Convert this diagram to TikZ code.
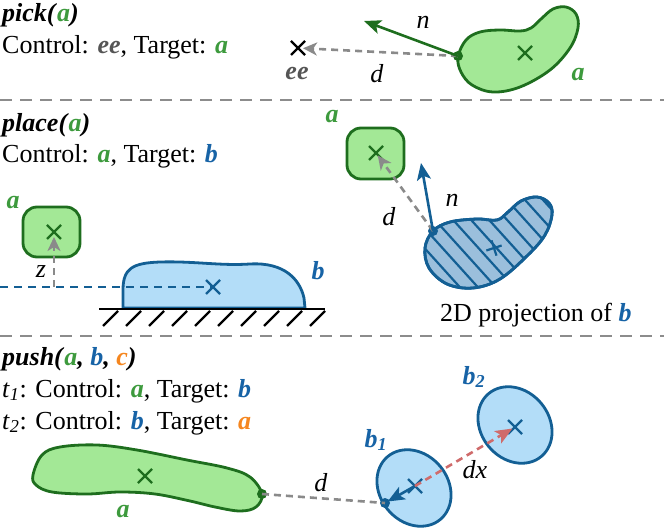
\documentclass[tikz,border=0pt]{standalone}
\usepackage{fontspec}
\setmainfont{Liberation Serif}
\usetikzlibrary{arrows.meta}
\definecolor{gfill}{HTML}{A3E896}
\definecolor{gdark}{HTML}{1E6E1E}
\definecolor{glab}{HTML}{3D9A3D}
\definecolor{bfill}{HTML}{B3DDF8}
\definecolor{bdark}{HTML}{135F94}
\definecolor{blab}{HTML}{1763A6}
\definecolor{hfill}{HTML}{9BBFDC}
\definecolor{garr}{HTML}{8A8A8A}
\definecolor{eecol}{HTML}{555555}
\definecolor{redarr}{HTML}{CF6B6B}
\definecolor{orng}{HTML}{F5861F}
\definecolor{sepcol}{HTML}{8C8C8C}
\newcommand{\bi}[1]{\textbf{\textit{#1}}}
\newcommand{\ga}{\textcolor{glab}{\bi{a}}}
\newcommand{\gb}{\textcolor{blab}{\bi{b}}}
\tikzset{
  xmark/.pic={\path[pic actions] (-7,-7) -- (7,7) (-7,7) -- (7,-7);},
  pmark/.pic={\path[pic actions] (-8,0) -- (8,0) (0,-8) -- (0,8);}
}
\begin{document}
\begin{tikzpicture}[x=1pt,y=-1pt,font=\fontsize{26}{32}\selectfont,
  gshape/.style={fill=gfill,draw=gdark,line width=2.8pt},
  bshape/.style={fill=bfill,draw=bdark,line width=2.8pt},
  hshape/.style={fill=hfill,draw=bdark,line width=2.8pt},
  xm/.style={line width=2.2pt},
  grayarr/.style={draw=garr,line width=2.6pt,dash pattern=on 7pt off 5pt,
    -{Stealth[length=14pt,width=13pt,inset=4pt,fill=garr]}},
  grayline/.style={draw=garr,line width=2.6pt,dash pattern=on 7pt off 5pt},
  greenarr/.style={draw=gdark,line width=2.6pt,-{Stealth[length=17pt,width=14pt,inset=4pt]}},
  bluearr/.style={draw=bdark,line width=2.6pt,-{Stealth[length=17pt,width=14pt,inset=4pt]}},
  redarrow/.style={draw=redarr,line width=2.6pt,dash pattern=on 7pt off 5pt,
    -{Stealth[length=17pt,width=14pt,inset=4pt,fill=redarr]}},
  sepline/.style={draw=sepcol,line width=1.2pt,dash pattern=on 12pt off 8pt},
  lbl/.style={inner sep=0pt},
  txt/.style={inner sep=0pt,anchor=base west},
  dotg/.style={circle,fill=gdark,inner sep=0pt,minimum size=10pt},
  dotb/.style={circle,fill=bdark,inner sep=0pt,minimum size=10pt}]
\useasboundingbox (0,0) rectangle (664,529);

% separators
\draw[sepline] (0,100) -- (664,100);
\draw[sepline] (0,336) -- (664,336);

% ---------- pick ----------
\node[txt] (t1) at (2,22) {\bi{pick(}\ga\bi{)}};
\node[txt] (t2) at (2,54) {Control: \textcolor{eecol}{\bi{ee}}, Target: \ga};
\draw[gshape] plot[smooth cycle,tension=0.6] coordinates {(458,57) (466,40) (480,32) (500,30) (520,31) (531,28) (541,19) (553,9) (566,7) (576,14) (578,28) (570,48) (550,70) (520,87) (493,92) (472,85) (461,72)};
\coordinate (pac) at (525,53);
\pic[draw=gdark,xm] at (pac) {xmark};
\node[dotg] (pa) at (458,56) {};
\coordinate (ee) at (298,48);
\pic[draw=black,xm] at (ee) {xmark};
\coordinate (ntip1) at (364,21);
\draw[grayarr,shorten >=5pt] (pa.center) -- (ee);
\draw[greenarr] (pa.center) -- (ntip1);
\node[lbl,text=eecol] (eel) at (297,74) {\bi{ee}};
\node[lbl] (d1) at (377,74) {\textit{d}};
\node[lbl] (n1) at (423,22) {\textit{n}};
\node[lbl] (al1) at (578,75) {\ga};

% ---------- place ----------
\node[txt] (t3) at (2,132) {\bi{place(}\ga\bi{)}};
\node[txt] (t4) at (2,163) {Control: \ga, Target: \gb};

% left side
\draw[gshape,rounded corners=14pt] (23,207) rectangle (80,257);
\coordinate (acl) at (54,232);
\pic[draw=gdark,xm] at (acl) {xmark};
\node[lbl] (al2) at (13,203) {\ga};
\draw[bshape] (123,308) -- (123,290) .. controls (123,268) and (133,263) .. (160,262) .. controls (195,261) and (220,266) .. (250,264) .. controls (285,262) and (300,280) .. (304,298) -- (305,308) -- cycle;
\coordinate (bc) at (213,287);
\coordinate (lft) at (0,287);
\coordinate (zb) at (54,287);
\draw[draw=bdark,line width=2.2pt,dash pattern=on 8pt off 6pt] (lft) -- (bc);
\pic[draw=bdark,xm] at (bc) {xmark};
\draw[grayarr,shorten >=5pt] (zb) -- (acl);
\node[lbl] (z) at (41,272) {\textit{z}};
\node[lbl] (bl1) at (318,271) {\gb};
\draw[line width=2.8pt] (99,309) -- (325,309);
\foreach \i in {0,...,9} \draw[line width=2.2pt] (118+23*\i,311) -- ++(-15,15);

% right side
\draw[gshape,rounded corners=14pt] (347,128) rectangle (404,179);
\coordinate (acr) at (376,153);
\pic[draw=gdark,xm] at (acr) {xmark};
\node[lbl] (al3) at (332,117) {\ga};
\draw[hshape] plot[smooth cycle,tension=0.6] coordinates {(433,231) (450,222) (477,219) (497,220) (508,212) (521,201) (537,197) (549,203) (552,215) (545,235) (528,255) (500,279) (473,288) (447,284) (429,268) (425,248)};
\begin{scope}
\clip plot[smooth cycle,tension=0.6] coordinates {(433,231) (450,222) (477,219) (497,220) (508,212) (521,201) (537,197) (549,203) (552,215) (545,235) (528,255) (500,279) (473,288) (447,284) (429,268) (425,248)};
\foreach \i in {0,...,15} \draw[bdark,line width=2.2pt] (300+18*\i,170) -- ++(140,155);
\end{scope}
\draw[hshape,fill=none] plot[smooth cycle,tension=0.6] coordinates {(433,231) (450,222) (477,219) (497,220) (508,212) (521,201) (537,197) (549,203) (552,215) (545,235) (528,255) (500,279) (473,288) (447,284) (429,268) (425,248)};
\coordinate (hc) at (494,248);
\pic[draw=bdark,xm,rotate=18] at (hc) {pmark};
\node[dotb] (hd) at (433,231) {};
\coordinate (ntip2) at (421,163);
\draw[grayarr,shorten >=3pt] (hd.center) -- (acr);
\draw[bluearr] (hd.center) -- (ntip2);
\node[lbl] (d2) at (389,217) {\textit{d}};
\node[lbl] (n2) at (452,200) {\textit{n}};
\node[txt] (proj) at (440,322) {2D projection of \gb};

% ---------- push ----------
\node[txt] (t5) at (2,365) {\bi{push(}\ga\bi{, }\gb\bi{, }\textcolor{orng}{\bi{c}}\bi{)}};
\node[txt] (t6) at (2,397) {\textit{t}\textsubscript{\textit{1}}: Control: \ga, Target: \gb};
\node[txt] (t7) at (2,429) {\textit{t}\textsubscript{\textit{2}}: Control: \gb, Target: \textcolor{orng}{\bi{a}}};

\draw[gshape] plot[smooth cycle,tension=0.6] coordinates {(33,475) (42,455) (60,447) (97,445) (137,450) (187,460) (227,468) (250,477) (262,494) (256,507) (240,511) (215,507) (190,501) (155,494) (120,492) (87,494) (52,492) (36,485)};
\coordinate (pc) at (145,476);
\pic[draw=gdark,xm] at (pc) {xmark};
\node[dotg] (pd) at (262,494) {};
\node[lbl] (al4) at (123,512) {\ga};

\draw[bshape,rotate around={-50:(414,488)}] (414,488) ellipse [x radius=41,y radius=34];
\draw[bshape,rotate around={-50:(515,425)}] (515,425) ellipse [x radius=41,y radius=34];
\coordinate (b1c) at (415,486);
\coordinate (b2c) at (515,427);
\pic[draw=bdark,xm] at (b1c) {xmark};
\pic[draw=bdark,xm] at (b2c) {xmark};
\node[dotb] (b1d) at (385,503) {};
\draw[grayline] (pd.center) -- (b1d.center);
\draw[bluearr,shorten >=3pt] (b1c) -- (b1d.center);
\draw[redarrow,shorten >=3pt] (b1c) -- (b2c);
\node[lbl] (d3) at (321,483) {\textit{d}};
\node[lbl] (dx) at (475,470) {\textit{dx}};
\node[lbl] (b1l) at (376,440) {\textcolor{blab}{\bi{b}\textsubscript{\bi{1}}}};
\node[lbl] (b2l) at (474,377) {\textcolor{blab}{\bi{b}\textsubscript{\bi{2}}}};
\end{tikzpicture}
\end{document}
